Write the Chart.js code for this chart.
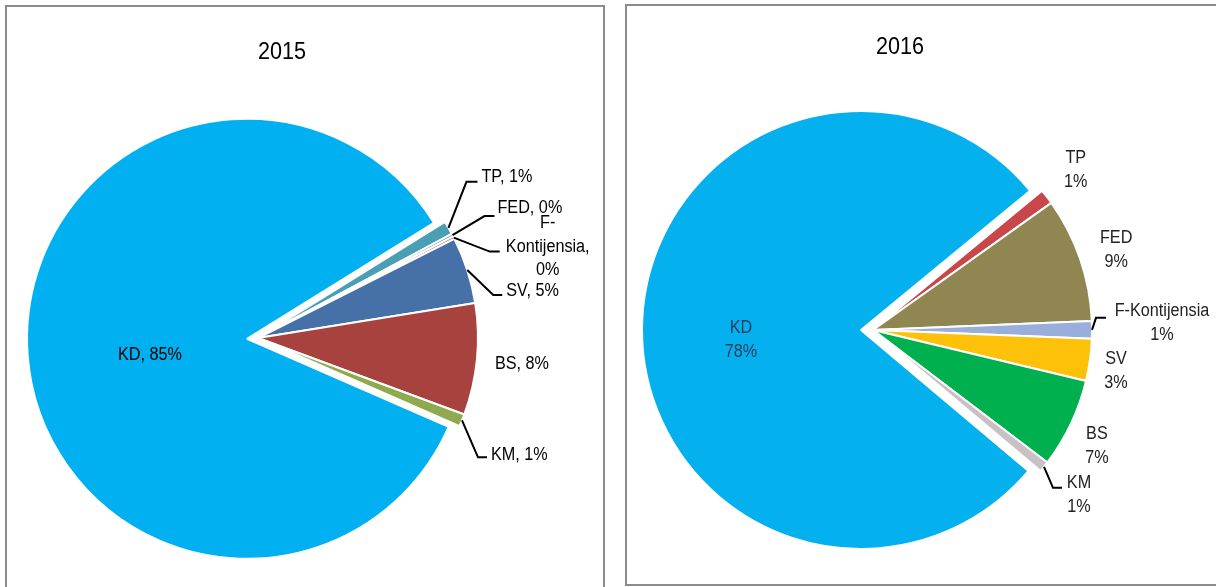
<!DOCTYPE html>
<html>
<head>
<meta charset="utf-8">
<script src="https://cdn.jsdelivr.net/npm/chart.js@4.4.0/dist/chart.umd.min.js"></script>
<style>
  body { margin:0; width:1216px; height:587px; overflow:hidden; background:#fff; position:relative; }
  .khung { position:absolute; border:2px solid #8c8c8c; box-sizing:border-box; }
  #k1 { left:5px; top:5px; width:600px; height:600px; }
  #k2 { left:625px; top:4px; width:620px; height:582px; }
  canvas { position:absolute; top:0; }
  #c1 { left:0; }
  #c2 { left:612px; }
</style>
</head>
<body>
<div class="khung" id="k1"></div>
<div class="khung" id="k2"></div>
<canvas id="c1" width="608" height="587"></canvas>
<canvas id="c2" width="604" height="587"></canvas>
<script>
// du lieu
const categories = ["KD", "TP", "FED", "F-Kontijensia", "SV", "BS", "KM"]
const values2015 = [84.6, 1.0, 0.2, 0.2, 4.9, 8.2, 0.9]
const values2016 = [77.9, 1.1, 9.2, 1.3, 3.1, 6.6, 0.8]
const colors2015 = ["#00b0f0", "#4a9fb4", "#4f81bd", "#c0504d", "#4570a8", "#a8423f", "#8fa94f"]
const colors2016 = ["#05b0ef", "#c9474a", "#8f8652", "#9aaedb", "#fdc10a", "#00b04f", "#c8c0c4"]

const FONT = "Liberation Sans, Arial, sans-serif"

function veChu(ctx, text, x, y, align, sx, color) {
  ctx.save()
  ctx.translate(x, y)
  ctx.scale(sx, 1)
  ctx.textAlign = align
  ctx.textBaseline = "middle"
  ctx.fillStyle = color
  ctx.fillText(text, 0, 0)
  ctx.restore()
}

// plugin: tach mieng KD ra + ve nhan
function taoNhan(cfg) {
  return {
    id: "nhan" + cfg.title,
    afterDatasetUpdate(chart, args) {
      args.meta.data.forEach((arc, i) => {
        const d = cfg.tach[i] || 0
        if (!d) return
        const goc = (arc.startAngle + arc.endAngle) / 2
        arc.x += Math.cos(goc) * d
        arc.y += Math.sin(goc) * d
      })
    },
    afterDraw(chart) {
      const ctx = chart.ctx
      const meta = chart.getDatasetMeta(0)
      const data = chart.data.datasets[0].data
      const tong = data.reduce((a, b) => a + b, 0)
      ctx.save()
      ctx.font = "18px " + FONT
      ctx.strokeStyle = "#000"
      ctx.lineWidth = 2
      meta.data.forEach((arc, i) => {
        const s = cfg.specs[i]
        const goc = (arc.startAngle + arc.endAngle) / 2
        const r = arc.outerRadius * s.k
        let x = arc.x + Math.cos(goc) * r
        let y = arc.y + Math.sin(goc) * r
        if (s.lead) {
          ctx.beginPath()
          ctx.moveTo(x, y)
          x += s.lead[0]; y += s.lead[1]
          ctx.lineTo(x, y)
          x += s.lead[2]
          ctx.lineTo(x, y)
          ctx.stroke()
        }
        const pct = Math.round(data[i] / tong * 100) + "%"
        const lines = cfg.lines(chart.data.labels[i], pct)
        const y0 = y + s.dy - (lines.length - 1) * cfg.lh / 2
        lines.forEach((t, j) => veChu(ctx, t, x + s.dx, y0 + j * cfg.lh, s.align || "center", 0.9, s.color || cfg.color))
      })
      ctx.font = "24px " + FONT
      veChu(ctx, cfg.title, cfg.titleX, cfg.titleY, "center", 0.9, "#000")
      ctx.restore()
    }
  }
}

function veBanh(id, values, colors, cfg) {
  return new Chart(id, {
    type: "pie",
    data: {
      labels: categories,
      datasets: [{
        data: values,
        backgroundColor: colors,
        borderColor: "#fff",
        borderWidth: 2
      }]
    },
    options: {
      responsive: false,
      animation: false,
      events: [],
      radius: cfg.radius,
      rotation: cfg.rotation,
      layout: { padding: cfg.padding },
      plugins: {
        legend: { display: false },
        tooltip: { enabled: false },
        title: { display: false }
      }
    },
    plugins: [taoNhan(cfg)]
  })
}

veBanh("c1", values2015, colors2015, {
  title: "2015", titleX: 282, titleY: 52,
  radius: 220, rotation: 113.6,
  padding: { left: 0, right: 92, top: 89, bottom: 0 },
  tach: [11, 0, 0, 0, 0, 0, 0],
  lh: 23.5, color: "#000",
  lines: (name, pct) => name.includes("-")
    ? [name.split("-")[0] + "-", name.split("-")[1] + ",", pct]
    : [name + ", " + pct],
  specs: [
    { k: 0, dx: -97, dy: 16 },
    { k: 1, lead: [18, -46, 11], dx: 4, dy: -5, align: "left" },
    { k: 1, lead: [32, -19, 10], dx: 3, dy: -8, align: "left" },
    { k: 1, lead: [36, 14, 10], dx: 48, dy: -5 },
    { k: 1, lead: [26, 25, 9], dx: 4, dy: -4, align: "left" },
    { k: 1, dx: 45, dy: 4.5 },
    { k: 1, lead: [16, 37, 9], dx: 4, dy: -2, align: "left" }
  ]
})

veBanh("c2", values2016, colors2016, {
  title: "2016", titleX: 288, titleY: 47,
  radius: 219, rotation: 130.1,
  padding: { left: 0, right: 82, top: 73, bottom: 0 },
  tach: [12, 0, 0, 0, 0, 0, 0],
  lh: 24, color: "#222",
  lines: (name, pct) => [name, pct],
  specs: [
    { k: 0, dx: -120, dy: 10, color: "#23405e" },
    { k: 1, dx: 29, dy: -27 },
    { k: 1, dx: 36, dy: -9 },
    { k: 1, lead: [4, -12, 10], dx: 56, dy: 5.5 },
    { k: 1, dx: 26, dy: 11 },
    { k: 1, dx: 26, dy: 22 },
    { k: 1, lead: [9, 21, 9], dx: 17, dy: 7 }
  ]
})
</script>
</body>
</html>
